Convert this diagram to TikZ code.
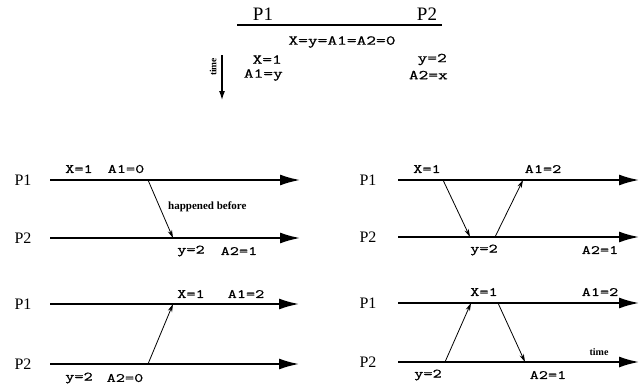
\documentclass[tikz,border=0pt]{standalone}
\usepackage{fontspec}
\setmainfont{Liberation Serif}
\newfontfamily\cour[FakeStretch=1.4,FakeBold=0.8]{Latin Modern Mono}
\usetikzlibrary{arrows.meta}
\tikzset{
  timeline/.style={line width=1.8pt,-{Latex[length=20pt,width=11pt]}},
  msg/.style={line width=0.8pt,-{Stealth[length=8pt,width=4.5pt]}},
  proc/.style={font=\fontsize{16}{18}\selectfont,inner sep=0pt},
  bigproc/.style={font=\fontsize{19}{21}\selectfont,inner sep=0pt},
  val/.style={font=\cour\fontsize{12.7}{14}\selectfont,inner sep=0pt},
  bigval/.style={font=\cour\fontsize{13.5}{15}\selectfont,inner sep=0pt},
  note/.style={font=\bfseries\fontsize{11}{12}\selectfont,inner sep=0pt}
}
\begin{document}
\begin{tikzpicture}[x=1pt,y=-1pt]
\useasboundingbox (0,0) rectangle (639,386);
% ---------- top program ----------
\node[bigproc] (tp1) at (263,14) {P1};
\node[bigproc] (tp2) at (427,14) {P2};
\coordinate (hl) at (237,25);
\coordinate (hr) at (442,25);
\draw[line width=1.6pt] (hl) -- (hr);
\node[bigval] (init) at (342,42) {X=y=A1=A2=0};
\node[bigval,anchor=east] (p1a) at (282,59.5) {X=1};
\node[bigval,anchor=east] (p1b) at (283,75) {A1=y};
\node[bigval,anchor=east] (p2a) at (447,59.5) {y=2};
\node[bigval,anchor=east] (p2b) at (448,75) {A2=x};
\coordinate (ts) at (222,55);
\coordinate (te) at (222,100);
\draw[line width=1.2pt,-{Latex[length=9pt,width=6pt]}] (ts) -- (te);
\node[note,font=\bfseries\fontsize{9.5}{11}\selectfont,rotate=90] (tlab) at (213,67) {time};
% ---------- panel A ----------
\node[proc] (aP1) at (23,180) {P1};
\node[proc] (aP2) at (23,238) {P2};
\coordinate (a1s) at (50,180); \coordinate (a1e) at (300,180);
\coordinate (a2s) at (50,238); \coordinate (a2e) at (300,238);
\draw[timeline] (a1s) -- (a1e);
\draw[timeline] (a2s) -- (a2e);
\coordinate (am1) at (148,180); \coordinate (am2) at (173,238);
\draw[msg] (am1) -- (am2);
\node[val] (ax) at (79,169) {X=1};
\node[val] (aa1) at (126,169) {A1=0};
\node[note,anchor=west] (ahb) at (168,207) {happened before};
\node[val] (ay) at (191,251) {y=2};
\node[val] (aa2) at (239,251) {A2=1};
% ---------- panel B ----------
\node[proc] (bP1) at (368,180) {P1};
\node[proc] (bP2) at (368,237) {P2};
\coordinate (b1s) at (398,180); \coordinate (b1e) at (639,180);
\coordinate (b2s) at (398,237); \coordinate (b2e) at (639,237);
\draw[timeline] (b1s) -- (b1e);
\draw[timeline] (b2s) -- (b2e);
\coordinate (bm1) at (443,180); \coordinate (bm2) at (470,237);
\coordinate (bm3) at (495,237); \coordinate (bm4) at (523,180);
\draw[msg] (bm1) -- (bm2);
\draw[msg] (bm3) -- (bm4);
\node[val] (bx) at (427,169) {X=1};
\node[val] (ba1) at (543,169) {A1=2};
\node[val] (by) at (484,250) {y=2};
\node[val] (ba2) at (600,250) {A2=1};
% ---------- panel C ----------
\node[proc] (cP1) at (23,304) {P1};
\node[proc] (cP2) at (23,364) {P2};
\coordinate (c1s) at (50,304); \coordinate (c1e) at (299,304);
\coordinate (c2s) at (50,364); \coordinate (c2e) at (299,364);
\draw[timeline] (c1s) -- (c1e);
\draw[timeline] (c2s) -- (c2e);
\coordinate (cm1) at (148,364); \coordinate (cm2) at (173,304);
\draw[msg] (cm1) -- (cm2);
\node[val] (cx) at (191,294) {X=1};
\node[val] (ca1) at (246,294) {A1=2};
\node[val] (cy) at (79,378) {y=2};
\node[val] (ca2) at (125,378) {A2=0};
% ---------- panel D ----------
\node[proc] (dP1) at (368,303) {P1};
\node[proc] (dP2) at (368,362) {P2};
\coordinate (d1s) at (398,303); \coordinate (d1e) at (639,303);
\coordinate (d2s) at (398,362); \coordinate (d2e) at (639,362);
\draw[timeline] (d1s) -- (d1e);
\draw[timeline] (d2s) -- (d2e);
\coordinate (dm1) at (445,362); \coordinate (dm2) at (471,303);
\coordinate (dm3) at (498,303); \coordinate (dm4) at (525,362);
\draw[msg] (dm1) -- (dm2);
\draw[msg] (dm3) -- (dm4);
\node[val] (dx) at (484,292) {X=1};
\node[val] (da1) at (600,292) {A1=2};
\node[note,font=\bfseries\fontsize{10}{11}\selectfont] (dtime) at (599,352) {time};
\node[val] (dy) at (428,375) {y=2};
\node[val] (da2) at (548,375) {A2=1};
\end{tikzpicture}
\end{document}
